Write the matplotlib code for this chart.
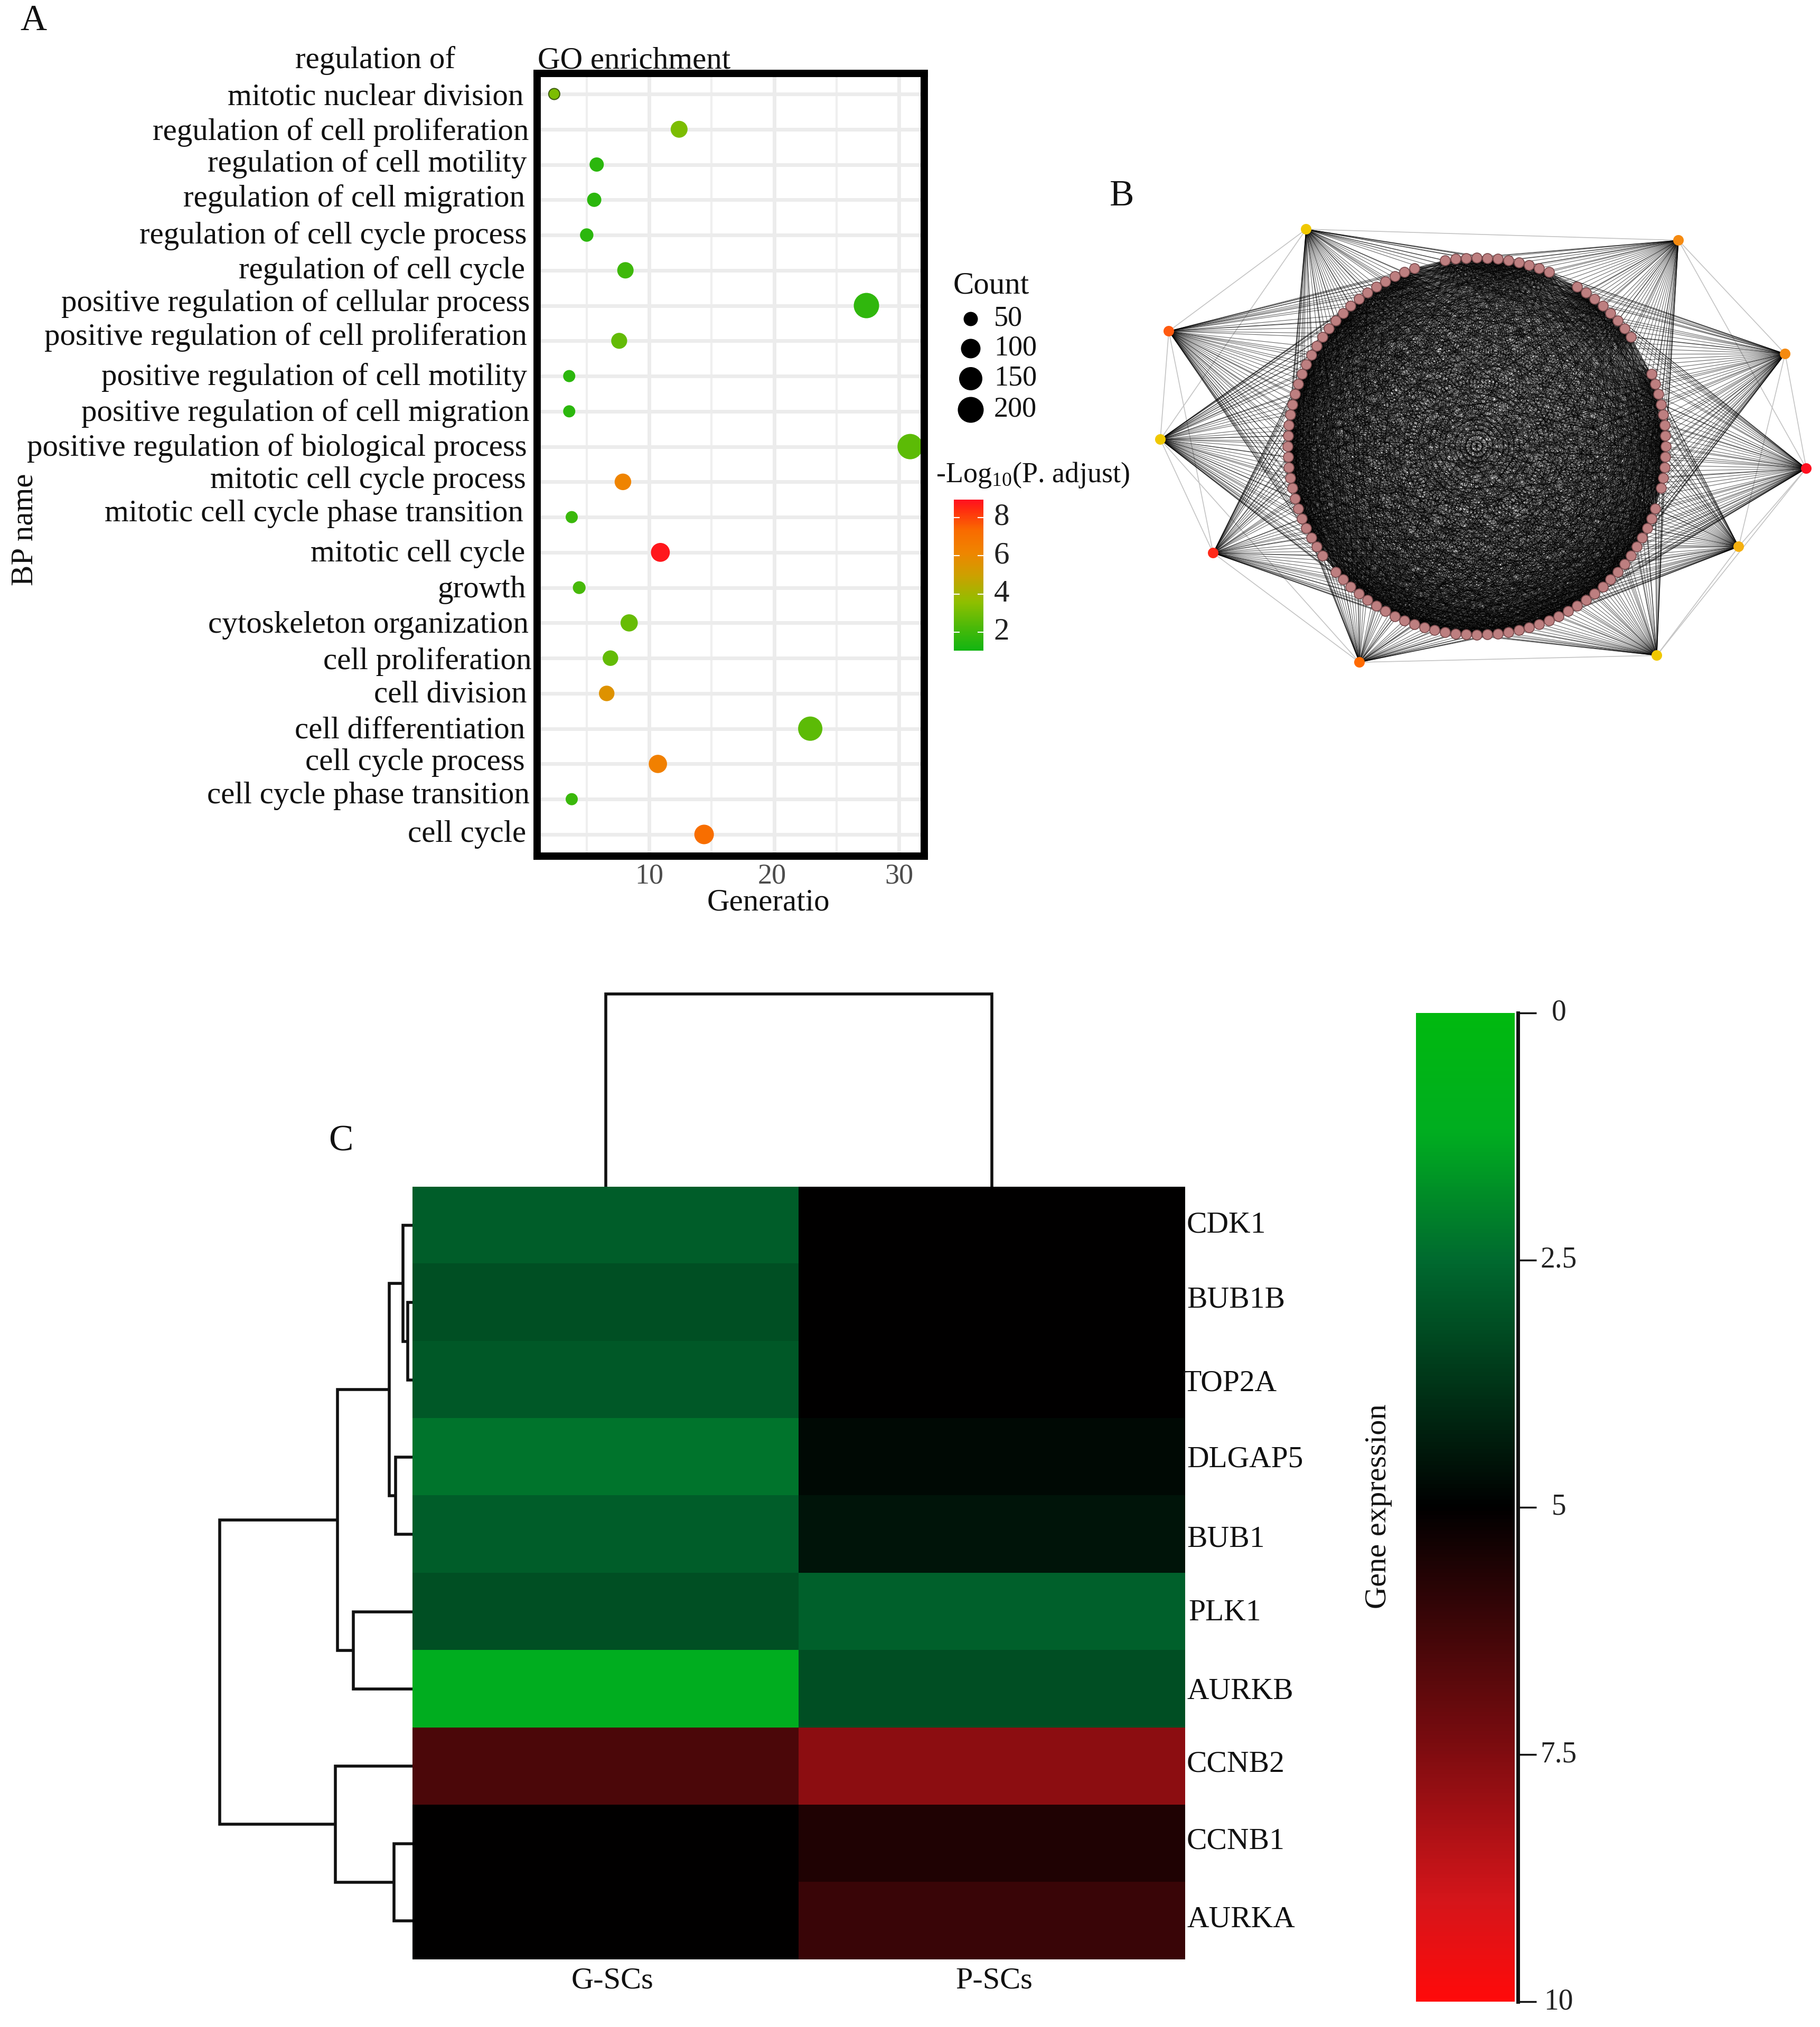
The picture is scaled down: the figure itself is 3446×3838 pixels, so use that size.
"""GO enrichment dot plot, PPI network and hub gene heatmap."""
import numpy as np
import matplotlib
matplotlib.use("Agg")
import matplotlib.pyplot as plt
from matplotlib.cm import ScalarMappable
from matplotlib.collections import LineCollection
from matplotlib.colors import LinearSegmentedColormap, Normalize

plt.rcParams["font.family"] = ["Liberation Serif", "DejaVu Serif"]
plt.rcParams["mathtext.fontset"] = "custom"
plt.rcParams["mathtext.rm"] = "Liberation Serif"
plt.rcParams["mathtext.default"] = "rm"

W, H = 3446, 3838
LABEL_SIZE = 42.5
SMALL_SIZE = 39

# Panel A, top row first
BP_NAMES = [
    "mitotic nuclear division", "regulation of cell proliferation",
    "regulation of cell motility", "regulation of cell migration",
    "regulation of cell cycle process", "regulation of cell cycle",
    "positive regulation of cellular process",
    "positive regulation of cell proliferation",
    "positive regulation of cell motility",
    "positive regulation of cell migration",
    "positive regulation of biological process",
    "mitotic cell cycle process", "mitotic cell cycle phase transition",
    "mitotic cell cycle", "growth", "cytoskeleton organization",
    "cell proliferation", "cell division", "cell differentiation",
    "cell cycle process", "cell cycle phase transition", "cell cycle",
]
GENERATIO = [2.4, 12.4, 5.8, 5.6, 5.0, 8.1, 27.4, 7.6, 3.6, 3.6, 30.9,
             7.9, 3.8, 10.9, 4.4, 8.4, 6.9, 6.6, 22.9, 10.7, 3.8, 14.4]
COUNTS = [20, 75, 50, 50, 42, 70, 190, 66, 30, 30, 190,
          72, 30, 94, 36, 78, 62, 62, 170, 88, 30, 100]
LOG_P = [3.2, 3.2, 1.6, 1.6, 1.6, 2.0, 1.7, 2.7, 1.6, 1.6, 2.6,
         6.2, 1.9, 8.8, 2.2, 2.8, 2.7, 5.6, 2.6, 6.4, 1.9, 7.2]
# hand placed label anchors in the source figure (right edge, centre y)
BP_LABEL_RIGHT = [991, 1001, 998, 994, 998, 994, 1003, 998, 998, 1003, 998,
                  996, 991, 994, 996, 1001, 1006, 998, 994, 994, 1003, 996]
BP_LABEL_Y = [181, 247, 306, 372, 443, 509, 570, 634, 710, 778, 844,
              906, 969, 1045, 1113, 1180, 1248, 1312, 1380, 1440, 1503, 1576]

COUNT_LEVELS = [50, 100, 150, 200]
COUNT_LEGEND_Y = [604, 660, 717, 776]
SIZE_COUNT = [15, 50, 100, 150, 200]
SIZE_PX = [20, 27, 37, 44, 49]
LOG_P_TICKS = [2, 4, 6, 8]

# Panel B
HUB_X = [2473, 3178, 3380, 3420, 3292, 3137, 2574, 2297, 2197, 2213]
HUB_Y = [434, 455, 670, 887, 1035, 1241, 1254, 1047, 832, 627]
HUB_COLORS = ["#f0c800", "#f58a10", "#f58a10", "#ff1020", "#f5b010",
              "#f0c800", "#ff6a00", "#ff2a1a", "#f0c800", "#ff5a10"]
RING_NODES = 112
RING_GAPS_DEG = [63, 105, 218, -15.6, 30, 27]
CHORD_SKIP = 7

# Panel C
GENES = ["CDK1", "BUB1B", "TOP2A", "DLGAP5", "BUB1", "PLK1", "AURKB",
         "CCNB2", "CCNB1", "AURKA"]
SAMPLES = ["G-SCs", "P-SCs"]
G_SCS = [2.8, 3.1, 2.9, 2.27, 2.8, 3.1, 1.2, 6.45, 5.0, 5.0]
P_SCS = [5.0, 5.0, 5.0, 4.8, 4.5, 2.7, 3.15, 7.7, 5.6, 6.1]
GENE_LABEL_LEFT = [2247, 2247, 2240, 2247, 2247, 2250, 2247, 2247, 2247, 2247]
GENE_LABEL_Y = [2315, 2457, 2615, 2760, 2910, 3050, 3198, 3336, 3482, 3630]
# clusters: children are gene rows (int) or earlier merges ("m0"...), then height
ROW_MERGES = [
    (1, 2, 9), (0, "m0", 18), (3, 4, 32), ("m1", "m2", 44),
    (5, 6, 112), ("m3", "m4", 142), (8, 9, 35), (7, "m6", 146),
    ("m5", "m7", 365),
]
COLUMN_HEIGHT = 365
EXPR_TICKS = [0, 2.5, 5, 7.5, 10]


def axes_px(fig, left, top, right, bottom):
    return fig.add_axes([left / W, 1 - bottom / H, (right - left) / W, (bottom - top) / H])


def put_text(fig, x, y, text, **kwargs):
    kwargs.setdefault("fontsize", LABEL_SIZE)
    kwargs.setdefault("va", "center")
    kwargs.setdefault("color", "#111111")
    return fig.text(x / W, 1 - y / H, text, **kwargs)


def draw_dotplot(fig):
    ax = axes_px(fig, 1017, 139, 1750, 1621)
    rows = np.arange(len(BP_NAMES))
    ax.set_xlim(1.03, 32.03)
    ax.set_ylim((1621 - 178) / 66.76, -(178 - 139) / 66.76)
    ax.set_xticks([10, 20, 30])
    ax.set_xticks([5, 15, 25], minor=True)
    ax.set_yticks(rows)
    ax.set_yticklabels([])
    ax.set_xticklabels([])
    ax.grid(which="major", color="#ececec", linewidth=5)
    ax.grid(which="minor", axis="x", color="#efefef", linewidth=3)
    ax.set_axisbelow(True)
    ax.tick_params(which="major", length=3, width=3.5, color="#222222")
    ax.tick_params(which="minor", length=0)
    for spine in ax.spines.values():
        spine.set_linewidth(10)
        spine.set_color("black")
        spine.set_zorder(5)

    cmap = LinearSegmentedColormap.from_list(
        "go", [(0, "#12b512"), (0.125, "#3fb80a"), (0.32, "#8fbf00"), (0.5, "#cda000"),
               (0.65, "#ef8500"), (0.8, "#f96a00"), (0.94, "#ff2a10"), (1, "#ff1020")])
    norm = Normalize(1.03, 8.94)
    diam = np.interp(COUNTS, SIZE_COUNT, SIZE_PX) * 0.72
    edges = ["#3f5f10"] + ["none"] * (len(rows) - 1)
    ax.scatter(GENERATIO, rows, s=diam ** 2, c=LOG_P, cmap=cmap, norm=norm,
               edgecolors=edges, linewidths=1.5, zorder=3)

    for name, right, y in zip(BP_NAMES, BP_LABEL_RIGHT, BP_LABEL_Y):
        put_text(fig, right, y + 4, name, ha="right")
    put_text(fig, 862, 115, "regulation of", ha="right")
    put_text(fig, 1018, 115, "GO enrichment", ha="left", zorder=1)
    put_text(fig, 48, 1003, "BP name", rotation=90, ha="center")
    for tick, x in zip([10, 20, 30], [1229, 1462, 1702]):
        put_text(fig, x, 1659, str(tick), ha="center", color="#4d4d4d", fontsize=SMALL_SIZE)
    put_text(fig, 1455, 1709, "Generatio", ha="center")

    put_text(fig, 1805, 541, "Count", ha="left")
    leg = axes_px(fig, 1800, 570, 1880, 810)
    leg.set_xlim(1800, 1880)
    leg.set_ylim(810, 570)
    leg.axis("off")
    leg_d = np.interp(COUNT_LEVELS, SIZE_COUNT, SIZE_PX) * 0.72
    leg.scatter([1838] * 4, COUNT_LEGEND_Y, s=leg_d ** 2, c="black", linewidths=0)
    for level, y in zip(COUNT_LEVELS, COUNT_LEGEND_Y):
        put_text(fig, 1882, y - 1, str(level), ha="left", fontsize=SMALL_SIZE)

    put_text(fig, 1772, 899, r"-Log$_{10}$(P. adjust)", ha="left", fontsize=SMALL_SIZE)
    cax = axes_px(fig, 1806, 946, 1862, 1232)
    cb = fig.colorbar(ScalarMappable(norm=norm, cmap=cmap), cax=cax)
    cb.outline.set_visible(False)
    cb.set_ticks(LOG_P_TICKS)
    cb.ax.tick_params(length=0, labelsize=LABEL_SIZE, pad=14, labelcolor="#222222")
    for label in cax.get_yticklabels():
        label.set_va("center")
    for t in LOG_P_TICKS:
        cax.plot([0, 0.18], [t, t], color="white", lw=1.5, transform=cax.get_yaxis_transform())
        cax.plot([0.82, 1], [t, t], color="white", lw=1.5, transform=cax.get_yaxis_transform())


def draw_network(fig):
    ax = axes_px(fig, 2150, 380, 3446, 1300)
    ax.set_xlim(2150, 3446)
    ax.set_ylim(1300, 380)
    ax.axis("off")

    angles = np.arange(RING_NODES) * 360.0 / RING_NODES
    keep = [a for a in angles
            if min(abs((a - g + 180) % 360 - 180) for g in RING_GAPS_DEG) > 2.5]
    rad = np.radians(keep)
    ring_x = 2796 + 358 * np.cos(rad)
    ring_y = 845 - 357 * np.sin(rad)
    n = len(ring_x)

    # hub to hub
    hub_lines = []
    for i in range(len(HUB_X)):
        for step in (1, 2):
            j = (i + step) % len(HUB_X)
            hub_lines.append([(HUB_X[i], HUB_Y[i]), (HUB_X[j], HUB_Y[j])])
    ax.add_collection(LineCollection(hub_lines, colors="#c4c4c4", linewidths=1.2, zorder=1))

    # hub fans
    fans = []
    for hx, hy in zip(HUB_X, HUB_Y):
        for k in range(0, n, 2):
            fans.append([(hx, hy), (ring_x[k], ring_y[k])])
    ax.add_collection(LineCollection(fans, colors="black", linewidths=0.8, alpha=0.6, zorder=2))

    # ring chords, thinned so the mesh does not form rings around the centre
    chords = []
    for i in range(n):
        for j in range(i + 1, n):
            if (i * i + 3 * j * j) % CHORD_SKIP > 1:
                chords.append([(ring_x[i], ring_y[i]), (ring_x[j], ring_y[j])])
    ax.add_collection(LineCollection(chords, colors="black", linewidths=0.55, alpha=0.5, zorder=3))

    ax.scatter(ring_x, ring_y, s=(19 * 0.72) ** 2, c="#bd7f80", edgecolors="#7a4a4c",
               linewidths=1.2, zorder=4)
    ax.scatter(HUB_X, HUB_Y, s=(20 * 0.72) ** 2, c=HUB_COLORS, linewidths=0, zorder=5)


def draw_heatmap(fig):
    ax = axes_px(fig, 781, 2247, 2244, 3710)
    cmap = LinearSegmentedColormap.from_list(
        "expr", [(0, "#00b90f"), (0.12, "#00ad20"), (0.25, "#00692f"), (0.5, "#000000"),
                 (0.75, "#800c10"), (0.9, "#d5151a"), (1, "#ff0a0a")])
    norm = Normalize(0, 10)
    values = np.column_stack([G_SCS, P_SCS])
    ax.imshow(values, cmap=cmap, norm=norm, aspect="auto", interpolation="nearest")
    ax.axis("off")

    for gene, x, y in zip(GENES, GENE_LABEL_LEFT, GENE_LABEL_Y):
        put_text(fig, x, y + 4, gene, ha="left", fontsize=41.5)
    for sample, x in zip(SAMPLES, [1160, 1882]):
        put_text(fig, x, 3750, sample, ha="center", fontsize=42)

    # row dendrogram
    rd = axes_px(fig, 400, 2247, 781, 3710)
    rd.set_xlim(381, 0)
    rd.set_ylim(len(GENES) - 0.5, -0.5)
    rd.axis("off")
    pos = {}
    for idx, (a, b, height) in enumerate(ROW_MERGES):
        ya, xa = pos.get(a, (a, 0))
        yb, xb = pos.get(b, (b, 0))
        rd.plot([xa, height, height, xb], [ya, ya, yb, yb], color="#111111", lw=4,
                solid_joinstyle="miter", solid_capstyle="butt")
        pos[f"m{idx}"] = ((ya + yb) / 2, height)

    # column dendrogram
    cd = axes_px(fig, 781, 1860, 2244, 2247)
    cd.set_xlim(-0.5, 1.5)
    cd.set_ylim(0, 387)
    cd.axis("off")
    cd.plot([0, 0, 1, 1], [0, COLUMN_HEIGHT, COLUMN_HEIGHT, 0], color="#111111", lw=4,
            solid_joinstyle="miter", solid_capstyle="butt")

    # colour bar
    cax = axes_px(fig, 2681, 1918, 2868, 3790)
    cb = fig.colorbar(ScalarMappable(norm=norm, cmap=cmap), cax=cax)
    cb.outline.set_visible(False)
    cax.invert_yaxis()
    cb.set_ticks(EXPR_TICKS)
    cb.set_ticklabels(["0", "2.5", "5", "7.5", "10"])
    cax.spines["right"].set_visible(True)
    cax.spines["right"].set_position(("outward", 4))
    cax.spines["right"].set_linewidth(5)
    cax.spines["right"].set_color("#111111")
    cax.tick_params(length=25, width=2.5, labelsize=40, pad=31, color="#111111", labelcolor="#222222")
    for label in cax.get_yticklabels():
        label.set_ha("center")
        label.set_va("center")
    put_text(fig, 2610, 2852, "Gene expression", rotation=90, ha="center", fontsize=42)


fig = plt.figure(figsize=(W / 100, H / 100), dpi=100, facecolor="white")
draw_dotplot(fig)
draw_network(fig)
draw_heatmap(fig)
put_text(fig, 63, 40, "A", ha="center", fontsize=50)
put_text(fig, 2124, 372, "B", ha="center", fontsize=50)
put_text(fig, 645, 2162, "C", ha="center", fontsize=50)
fig.savefig("out.png", dpi=100, facecolor="white")
